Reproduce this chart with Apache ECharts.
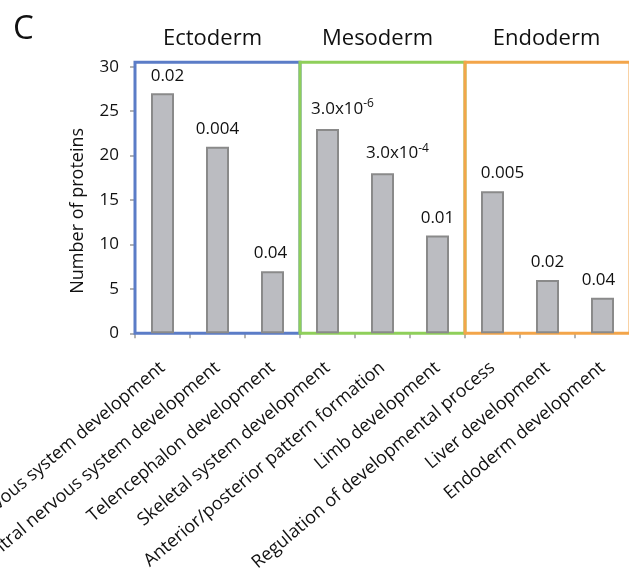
<!DOCTYPE html>
<html>
<head>
<meta charset="utf-8">
<script src="https://cdn.jsdelivr.net/npm/echarts@6/dist/echarts.min.js"></script>
<style>
html,body{margin:0;padding:0;background:#fff;}
#c{width:629px;height:571px;}
</style>
</head>
<body>
<div id="c"></div>
<script>
// ---- data ----
var categories = [
  'Nervous system development',
  'Central nervous system development',
  'Telencephalon development',
  'Skeletal system development',
  'Anterior/posterior pattern formation',
  'Limb development',
  'Regulation of developmental process',
  'Liver development',
  'Endoderm development'
];
var proteinCounts = [27, 21, 7, 23, 18, 11, 16, 6, 4];
var pValueLabels = ['0.02', '0.004', '0.04', '3.0x10^-6', '3.0x10^-4', '0.01', '0.005', '0.02', '0.04'];
var groupNames = ['Ectoderm', 'Mesoderm', 'Endoderm'];
var groupStart = [0, 3, 6];
var groupEnd = [3, 6, 9];
var yTicks = [0, 5, 10, 15, 20, 25, 30];
var panelLetter = 'C';
var yAxisTitle = 'Number of proteins';

// ---- styling (not data) ----
var groupColors = ['#5b7cc7', '#8fcf5a', '#f3a54a'];
var labelNudgeX = [5, 0, -2, 15, 15, 0, 10, 0, -4];
var groupTitleNudgeX = [-5, -5, -1];
var FONT = '"Open Sans", "Noto Sans", sans-serif';

function fmtP(s) {
  var i = s.indexOf('^');
  if (i < 0) return '{n|' + s + '}';
  return '{n|' + s.slice(0, i) + '}{s|' + s.slice(i + 1) + '}';
}

var barData = proteinCounts.map(function (v, i) {
  return { value: v, label: { offset: [labelNudgeX[i], 0] } };
});

var areas = groupNames.map(function (g, k) {
  return [
    { name: g, xAxis: groupStart[k], yAxis: 0,
      label: { offset: [groupTitleNudgeX[k], 0] },
      itemStyle: { color: 'rgba(0,0,0,0)', borderColor: groupColors[k], borderWidth: 3 } },
    { xAxis: groupEnd[k], yAxis: 30.5 }
  ];
});

var chart = echarts.init(document.getElementById('c'), null, { renderer: 'canvas' });
chart.setOption({
  animation: false,
  backgroundColor: '#ffffff',
  textStyle: { fontFamily: FONT },
  title: {
    text: panelLetter, left: 8, top: 8,
    textStyle: { fontSize: 33, fontWeight: 'normal', color: '#111', fontFamily: FONT }
  },
  grid: { left: 135, top: 62.26, width: 495, height: 271.1, containLabel: false, outerBoundsMode: 'none' },
  xAxis: [{
    type: 'category',
    data: categories,
    axisLine: { show: false },
    axisTick: { show: true, length: 5, lineStyle: { color: '#9a9a9a', width: 1.5 } },
    axisLabel: {
      interval: 0, rotate: 40, margin: 32,
      fontSize: 18, color: '#111', fontFamily: FONT
    }
  }, {
    type: 'value', min: 0, max: 9, show: false
  }],
  yAxis: {
    type: 'value', min: 0, max: 30.5,
    name: yAxisTitle, nameLocation: 'middle', nameRotate: 90, nameGap: 48,
    nameTextStyle: { fontSize: 18, color: '#111', fontFamily: FONT, padding: [0, 26, 0, 0] },
    axisLine: { show: false },
    axisTick: { show: true, length: 5, customValues: yTicks, lineStyle: { color: '#9a9a9a', width: 1.5 } },
    splitLine: { show: false },
    axisLabel: {
      margin: 16, fontSize: 17, color: '#111', fontFamily: FONT,
      customValues: yTicks
    }
  },
  series: [{
    type: 'bar',
    data: barData,
    barWidth: 23,
    itemStyle: { color: '#bbbcc1', borderColor: '#8a8a8a', borderWidth: 2 },
    label: {
      show: true, position: 'top', distance: 9,
      formatter: function (p) { return fmtP(pValueLabels[p.dataIndex]); },
      rich: {
        n: { fontSize: 17, color: '#111', fontFamily: FONT },
        s: { fontSize: 12, color: '#111', fontFamily: FONT, padding: [0, 0, 10, 0] }
      }
    }
  }, {
    type: 'line',
    xAxisIndex: 1,
    data: [],
    z: 5,
    silent: true,
    markArea: {
      silent: true,
      label: {
        show: true, position: 'top', distance: 11,
        fontSize: 22, color: '#111', fontFamily: FONT
      },
      data: areas
    }
  }]
});
</script>
</body>
</html>
